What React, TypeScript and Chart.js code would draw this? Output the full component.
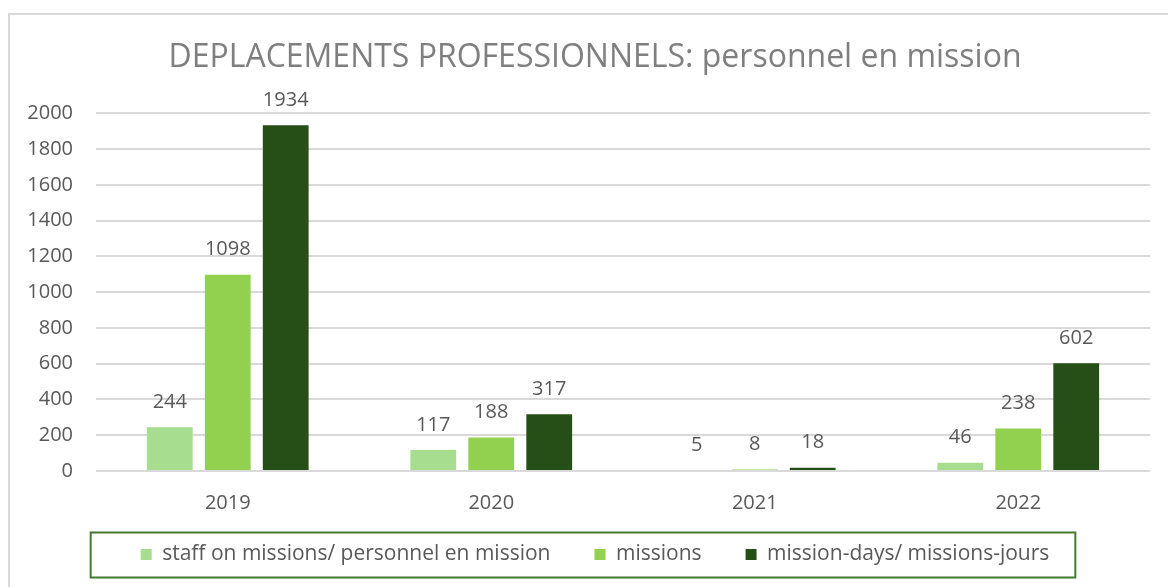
import React, { useEffect, useRef } from "react";
import { Chart, registerables } from "chart.js";

Chart.register(...registerables);

const FONT = "'Open Sans', Lato, sans-serif";

const chartTitle = "DEPLACEMENTS PROFESSIONNELS: personnel en mission";
const categories = ["2019", "2020", "2021", "2022"];
const seriesLabels = [
  "staff on missions/ personnel en mission",
  "missions",
  "mission-days/ missions-jours",
];
const staffOnMissions = [244, 117, 5, 46];
const missions = [1098, 188, 8, 238];
const missionDays = [1934, 317, 18, 602];
const seriesColors = ["#a6dd8e", "#92d050", "#264f17"];

const valueLabels = {
  id: "valueLabels",
  afterDatasetsDraw(chart: any) {
    const ctx = chart.ctx;
    ctx.save();
    ctx.font = `20px ${FONT}`;
    ctx.fillStyle = "#595959";
    ctx.textAlign = "center";
    ctx.textBaseline = "middle";
    chart.data.datasets.forEach((ds: any, i: number) => {
      const meta = chart.getDatasetMeta(i);
      meta.data.forEach((el: any, j: number) => {
        ctx.fillText(String(ds.data[j]), el.x, el.y - 25);
      });
    });
    ctx.restore();
  },
};

const legendFrame = {
  id: "legendFrame",
  afterDraw(chart: any) {
    const lg = chart.legend;
    if (!lg || !lg.legendHitBoxes || !lg.legendHitBoxes.length) return;
    const hb = lg.legendHitBoxes;
    const first = hb[0];
    const last = hb[hb.length - 1];
    const left = first.left - 50;
    const right = last.left + last.width + 26;
    const cy = first.top + first.height / 2;
    const ctx = chart.ctx;
    ctx.save();
    ctx.strokeStyle = "#437a2f";
    ctx.lineWidth = 2;
    ctx.strokeRect(left, cy - 22, right - left, 45);
    ctx.restore();
  },
};

const noLabelClip = (scale: any) => {
  scale._computeLabelArea = () => undefined;
};

export default function App() {
  const ref = useRef<HTMLCanvasElement | null>(null);

  useEffect(() => {
    if (!ref.current) return;
    const datasets = [staffOnMissions, missions, missionDays].map((d, i) => ({
      label: seriesLabels[i],
      data: d,
      backgroundColor: seriesColors[i],
      borderWidth: 0,
      categoryPercentage: 0.66,
      barPercentage: 0.79,
    }));
    const chart = new Chart(ref.current, {
      type: "bar",
      data: { labels: categories, datasets },
      options: {
        animation: false,
        responsive: true,
        maintainAspectRatio: false,
        events: [],
        layout: { padding: { left: 30, right: 18, top: 0, bottom: 12 } },
        plugins: {
          tooltip: { enabled: false },
          title: {
            display: true,
            text: chartTitle,
            color: "#7f7f7f",
            font: { family: FONT, size: 32, weight: "normal" as any },
            padding: { top: 24, bottom: 36 },
          },
          legend: {
            display: true,
            position: "bottom",
            labels: {
              boxWidth: 11,
              boxHeight: 11,
              padding: 44,
              color: "#595959",
              font: { family: FONT, size: 21 },
            },
          },
        },
        scales: {
          x: {
            grid: { display: false, drawTicks: false },
            border: { display: false },
            ticks: {
              color: "#595959",
              font: { family: FONT, size: 20 },
              padding: 20,
            },
            afterFit(scale: any) {
              scale.height = 29;
              noLabelClip(scale);
            },
          },
          y: {
            min: 0,
            max: 2000,
            grid: { color: "#d9d9d9", lineWidth: 2, drawTicks: false },
            border: { display: false },
            ticks: {
              stepSize: 200,
              color: "#595959",
              font: { family: FONT, size: 20 },
              padding: 23,
              callback: (v: any) => String(v),
            },
            afterFit(scale: any) {
              scale.width = 56;
              noLabelClip(scale);
            },
          },
        },
      },
      plugins: [valueLabels, legendFrame],
    });
    return () => chart.destroy();
  }, []);

  return (
    <div
      style={{
        position: "absolute",
        left: 8,
        top: 13,
        width: 1160,
        height: 574,
        borderTop: "2px solid #d9d9d9",
        borderLeft: "2px solid #d9d9d9",
        boxSizing: "border-box",
        background: "#fff",
      }}
    >
      <div style={{ position: "relative", width: "100%", height: "100%" }}>
        <canvas ref={ref} />
      </div>
    </div>
  );
}
